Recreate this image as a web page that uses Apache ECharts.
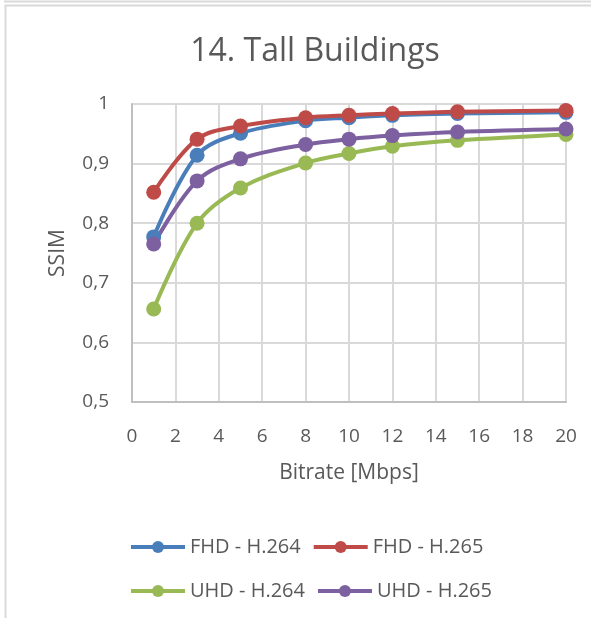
<!DOCTYPE html>
<html>
<head>
<meta charset="utf-8">
<script src="https://cdn.jsdelivr.net/npm/echarts@6/dist/echarts.min.js"></script>
<style>
  html, body { margin: 0; padding: 0; background: #fff; }
  #chart { width: 591px; height: 618px; }
</style>
</head>
<body>
<div id="chart"></div>
<script>
// Bitrate steps (Mbps) and SSIM per codec / resolution
const bitrates = [1, 3, 5, 8, 10, 12, 15, 20];
const fhdH264 = [0.777, 0.914, 0.951, 0.972, 0.977, 0.981, 0.984, 0.986];
const fhdH265 = [0.852, 0.941, 0.963, 0.977, 0.981, 0.984, 0.987, 0.989];
const uhdH264 = [0.656, 0.800, 0.859, 0.901, 0.917, 0.929, 0.939, 0.949];
const uhdH265 = [0.765, 0.871, 0.908, 0.932, 0.941, 0.947, 0.953, 0.958];
const seriesNames = ['FHD - H.264', 'FHD - H.265', 'UHD - H.264', 'UHD - H.265'];
const seriesColors = ['#4a7ebb', '#be4b48', '#98b954', '#7d60a0'];

const FONT = 'Open Sans';
const TEXT = '#595959';

function pairs(ys) { return bitrates.map((x, i) => [x, ys[i]]); }

function lineSeries(name, ys, color) {
  return {
    name: name,
    type: 'line',
    smooth: 0.35,
    data: pairs(ys),
    symbol: 'circle',
    symbolSize: 15,
    lineStyle: { color: color, width: 4 },
    itemStyle: { color: color },
    z: 3
  };
}

const legendCommon = {
  left: 124,
  itemWidth: 54, itemHeight: 15, itemGap: 11,
  lineStyle: { width: 4 },
  textStyle: { fontFamily: FONT, fontSize: 20, color: TEXT }
};

const chart = echarts.init(document.getElementById('chart'), null, { renderer: 'canvas' });
chart.setOption({
  animation: false,
  backgroundColor: '#fff',
  textStyle: { fontFamily: FONT },
  title: {
    text: '14. Tall Buildings',
    left: 310,
    top: 31,
    textAlign: 'center',
    textStyle: { fontFamily: FONT, fontSize: 32, fontWeight: 'normal', color: TEXT }
  },
  grid: { left: 132, right: 25, top: 104, bottom: 216, containLabel: false },
  xAxis: {
    type: 'value',
    min: 0, max: 20, interval: 2,
    name: 'Bitrate [Mbps]',
    nameLocation: 'middle',
    nameGap: 61,
    nameTextStyle: { fontFamily: FONT, fontSize: 21, color: TEXT },
    axisLine: { show: true, lineStyle: { color: '#bfbfbf', width: 2 } },
    axisTick: { show: false },
    axisLabel: { fontFamily: FONT, fontSize: 19, color: TEXT, margin: 25 },
    splitLine: { show: true, lineStyle: { color: '#d9d9d9', width: 2 } }
  },
  yAxis: {
    type: 'value',
    min: 0.5, max: 1, interval: 0.1,
    name: 'SSIM',
    nameLocation: 'middle',
    nameGap: 63,
    nameTextStyle: { fontFamily: FONT, fontSize: 21, color: TEXT },
    axisLine: { show: true, lineStyle: { color: '#bfbfbf', width: 2 } },
    axisTick: { show: false },
    axisLabel: {
      fontFamily: FONT, fontSize: 19, color: TEXT, margin: 23,
      formatter: v => (Math.round(v * 10) / 10).toString().replace('.', ',')
    },
    splitLine: { show: true, lineStyle: { color: '#d9d9d9', width: 2 } }
  },
  legend: [
    Object.assign({ data: [seriesNames[0], seriesNames[1]], top: 532 }, legendCommon),
    Object.assign({ data: [seriesNames[2], seriesNames[3]], top: 576 }, legendCommon)
  ],
  graphic: [
    { type: 'line', shape: { x1: 4, y1: 1.5, x2: 591, y2: 1.5 }, style: { stroke: '#d9d9d9', lineWidth: 2 } },
    { type: 'line', shape: { x1: 5.5, y1: 5, x2: 5.5, y2: 618 }, style: { stroke: '#d9d9d9', lineWidth: 2 } },
    { type: 'line', shape: { x1: 5, y1: 5.5, x2: 591, y2: 5.5 }, style: { stroke: '#d9d9d9', lineWidth: 2 } }
  ],
  series: [
    lineSeries(seriesNames[0], fhdH264, seriesColors[0]),
    lineSeries(seriesNames[1], fhdH265, seriesColors[1]),
    lineSeries(seriesNames[2], uhdH264, seriesColors[2]),
    lineSeries(seriesNames[3], uhdH265, seriesColors[3])
  ]
});
</script>
</body>
</html>
